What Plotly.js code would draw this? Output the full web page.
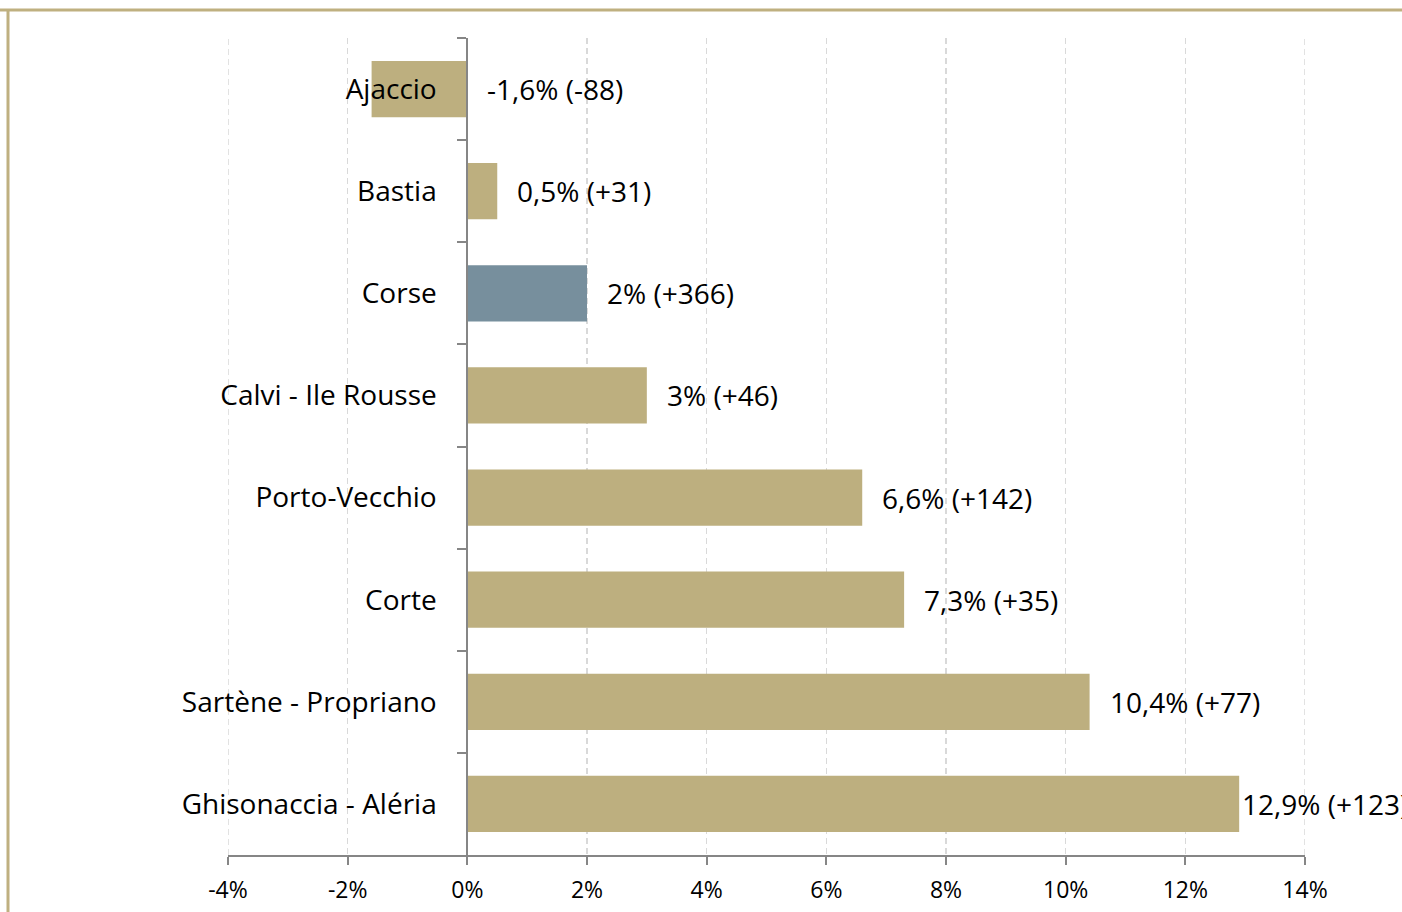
<!DOCTYPE html>
<html>
<head>
<meta charset="utf-8">
<script src="https://cdn.plot.ly/plotly-3.0.1.min.js"></script>
<style>html,body{margin:0;padding:0;background:#fff;overflow:hidden}#chart{width:1402px;height:912px}</style>
</head>
<body>
<div id="chart"></div>
<script>
const categories = ["Ajaccio","Bastia","Corse","Calvi - Ile Rousse","Porto-Vecchio","Corte","Sartène - Propriano","Ghisonaccia - Aléria"];
const pctValues = [-1.6, 0.5, 2, 3, 6.6, 7.3, 10.4, 12.9];
const countValues = [-88, 31, 366, 46, 142, 35, 77, 123];
const xTickValues = [-4,-2,0,2,4,6,8,10,12,14];
const xTickLabels = ["-4%","-2%","0%","2%","4%","6%","8%","10%","12%","14%"];

const tan = "#BDAF7F", blue = "#778F9D";
const colors = categories.map(c => c === "Corse" ? blue : tan);
const font = "'Open Sans', 'Noto Sans', sans-serif";

function fmt(v){ return String(v).replace('.', ','); }
const labels = pctValues.map((v,i) => fmt(v) + "% (" + (countValues[i] >= 0 ? "+" : "") + countValues[i] + ")");

const trace = {
  type: "bar", orientation: "h",
  y: categories, x: pctValues,
  marker: {color: colors, line: {width: 0}},
  hoverinfo: "skip"
};

const annotations = pctValues.map((v,i) => ({
  x: Math.max(v, 0), y: categories[i], xref: "x", yref: "y",
  text: labels[i], showarrow: false, xanchor: "left",
  xshift: (i === pctValues.length - 1) ? 1 : 18, yshift: 0,
  font: {family: font, size: 28, color: "#000"}
}));

const gridDash = "6px,4px";
const edgeGrid = [xTickValues[0], xTickValues[xTickValues.length - 1]].map(v => ({
  type: "line", xref: "x", yref: "paper", x0: v, x1: v, y0: 0, y1: 1, layer: "below",
  line: {color: "#D9D9D9", width: 1.5, dash: gridDash}
}));

const layout = {
  width: 1402, height: 912,
  margin: {l: 228, r: 97, t: 38, b: 57},
  paper_bgcolor: "#fff", plot_bgcolor: "#fff",
  showlegend: false,
  bargap: 0.45,
  xaxis: {
    range: [-4, 14], tickvals: xTickValues, ticktext: xTickLabels,
    showgrid: true, gridcolor: "#D9D9D9", griddash: gridDash, gridwidth: 1.5,
    zeroline: false, showline: true, linecolor: "#868686", linewidth: 2,
    ticks: "outside", ticklen: 8, tickcolor: "#868686", tickwidth: 2,
    tickfont: {family: font, size: 23, color: "#000"}, ticklabelstandoff: 5,
    fixedrange: true
  },
  yaxis: {
    type: "category", autorange: "reversed",
    anchor: "free", position: 4/18,
    showline: true, linecolor: "#868686", linewidth: 2,
    showgrid: false, zeroline: false,
    ticks: "outside", tickson: "boundaries", ticklen: 9, tickcolor: "#868686", tickwidth: 2,
    tickfont: {family: font, size: 28, color: "#000"}, ticklabelstandoff: 24,
    fixedrange: true
  },
  annotations: annotations,
  shapes: edgeGrid.concat([
    {type: "line", xref: "paper", yref: "paper", x0: -228/1077, x1: 2, y0: 1 + 28/817, y1: 1 + 28/817, line: {color: "#BFB080", width: 3}},
    {type: "line", xref: "paper", yref: "paper", x0: -220/1077, x1: -220/1077, y0: -1, y1: 1 + 28/817, line: {color: "#BFB080", width: 3}}
  ])
};

Plotly.newPlot("chart", [trace], layout, {displayModeBar: false, staticPlot: true});
</script>
</body>
</html>
